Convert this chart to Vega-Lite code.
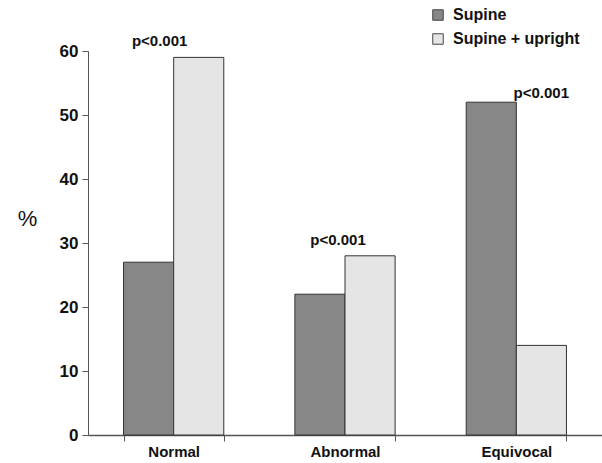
{
  "$schema": "https://vega.github.io/schema/vega-lite/v6.json",
  "width": 514,
  "height": 384,
  "autosize": "none",
  "padding": {"left": 88, "top": 51, "right": 0, "bottom": 28},
  "background": "white",
  "config": {"view": {"stroke": null}, "font": "Liberation Sans"},
  "datasets": {
    "bars": [
      {"category": "Normal", "group": "Supine", "value": 27},
      {"category": "Normal", "group": "Supine + upright", "value": 59},
      {"category": "Abnormal", "group": "Supine", "value": 22},
      {"category": "Abnormal", "group": "Supine + upright", "value": 28},
      {"category": "Equivocal", "group": "Supine", "value": 52},
      {"category": "Equivocal", "group": "Supine + upright", "value": 14}
    ],
    "notes": [
      {"category": "Normal", "y": 61.6, "label": "p<0.001"},
      {"category": "Abnormal", "y": 30.4, "label": "p<0.001"},
      {"category": "Equivocal", "y": 53.5, "label": "p<0.001"}
    ]
  },
  "layer": [
    {
      "data": {"name": "bars"},
      "mark": {"type": "bar", "stroke": "#333333", "strokeWidth": 1},
      "encoding": {
        "x": {
          "field": "category", "type": "nominal", "sort": ["Normal", "Abnormal", "Equivocal"],
          "scale": {"paddingInner": 0.415, "paddingOuter": 0.2075},
          "axis": {"title": null, "labelAngle": 0, "labelFont": "Liberation Sans", "labelFontWeight": "bold", "labelFontSize": 15, "labelColor": "#111", "labelPadding": 3, "tickBand": "extent", "tickSize": 6, "domainColor": "#555", "tickColor": "#555", "domainWidth": 1.5}
        },
        "xOffset": {"field": "group", "type": "nominal", "sort": ["Supine", "Supine + upright"], "scale": {"paddingInner": 0, "paddingOuter": 0}},
        "y": {
          "field": "value", "type": "quantitative",
          "scale": {"domain": [0, 60]},
          "axis": {"title": "%", "titleAngle": 0, "titleFont": "Liberation Sans", "titleFontWeight": "normal", "titleFontSize": 22, "titleColor": "#111", "titleX": -61, "titleY": 167, "titleAlign": "center", "titleBaseline": "middle", "values": [0, 10, 20, 30, 40, 50, 60], "grid": false, "labelFont": "Liberation Sans", "labelFontWeight": "bold", "labelFontSize": 17, "labelColor": "#111", "labelPadding": 4, "tickSize": 6, "domainColor": "#555", "tickColor": "#555"}
        },
        "fill": {
          "field": "group", "type": "nominal",
          "scale": {"domain": ["Supine", "Supine + upright"], "range": ["#878787", "#e5e5e5"]},
          "legend": {"title": null, "orient": "none", "legendX": 342, "legendY": -44, "symbolType": "square", "symbolSize": 110, "symbolStrokeColor": "#444", "symbolStrokeWidth": 1, "labelFont": "Liberation Sans", "labelFontWeight": "bold", "labelFontSize": 16, "labelColor": "#111", "rowPadding": 8, "labelOffset": 7}
        }
      }
    },
    {
      "data": {"name": "notes"},
      "transform": [{"filter": "datum.category === 'Normal'"}],
      "mark": {"type": "text", "font": "Liberation Sans", "fontWeight": "bold", "fontSize": 15, "color": "#111", "baseline": "middle", "dx": -14},
      "encoding": {
        "x": {"field": "category", "type": "nominal", "sort": ["Normal", "Abnormal", "Equivocal"]},
        "y": {"field": "y", "type": "quantitative"},
        "text": {"field": "label"}
      }
    },
    {
      "data": {"name": "notes"},
      "transform": [{"filter": "datum.category === 'Abnormal'"}],
      "mark": {"type": "text", "font": "Liberation Sans", "fontWeight": "bold", "fontSize": 15, "color": "#111", "baseline": "middle", "dx": -7},
      "encoding": {
        "x": {"field": "category", "type": "nominal", "sort": ["Normal", "Abnormal", "Equivocal"]},
        "y": {"field": "y", "type": "quantitative"},
        "text": {"field": "label"}
      }
    },
    {
      "data": {"name": "notes"},
      "transform": [{"filter": "datum.category === 'Equivocal'"}],
      "mark": {"type": "text", "font": "Liberation Sans", "fontWeight": "bold", "fontSize": 15, "color": "#111", "baseline": "middle", "dx": 25},
      "encoding": {
        "x": {"field": "category", "type": "nominal", "sort": ["Normal", "Abnormal", "Equivocal"]},
        "y": {"field": "y", "type": "quantitative"},
        "text": {"field": "label"}
      }
    }
  ]
}
